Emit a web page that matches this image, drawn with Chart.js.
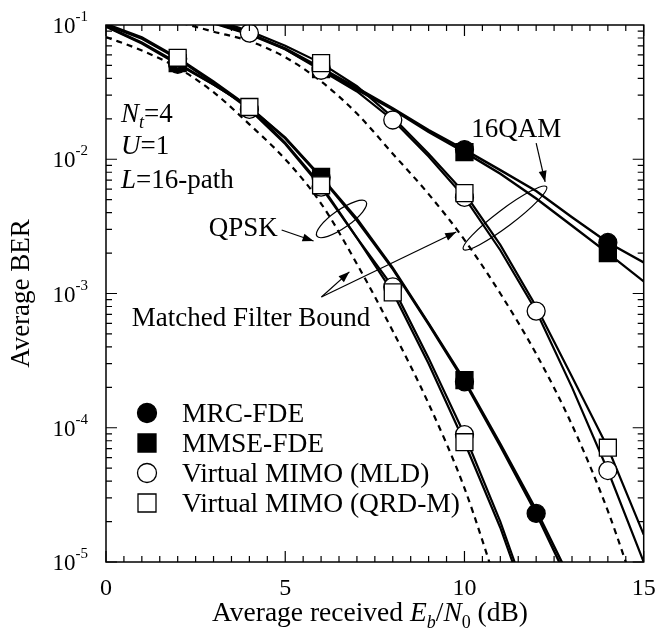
<!DOCTYPE html>
<html>
<head>
<meta charset="utf-8">
<style>
  html, body { margin: 0; padding: 0; background: #fff; }
  #wrap { width: 657px; height: 634px; }
</style>
<script src="https://cdn.jsdelivr.net/npm/chart.js"></script>
</head>
<body>
<div id="wrap"><canvas id="chart" width="657" height="634"></canvas></div>
<script>
// Eb/N0 grid of the curves (dB)
const snr = [0, 1, 2, 3, 4, 5, 6, 7, 8, 9, 10, 11, 12, 13, 14, 15];
// Eb/N0 where simulation markers sit
const snrMarks = [2, 4, 6, 8, 10, 12, 14];

// QPSK curves
const qpskMrc  = [0.097, 0.073, 0.051, 0.036, 0.0245, 0.0143, 0.0073, 0.0035, 0.00152, 5.9e-4, 2.2e-4, 7.3e-5, 2.3e-5, 6.3e-6, null, null];
const qpskMmse = [0.098, 0.074, 0.052, 0.036, 0.0245, 0.0145, 0.0074, 0.0036, 0.00155, 6.0e-4, 2.26e-4, 7.6e-5, 2.45e-5, 7.0e-6, null, null];
const qpskMld  = [0.100, 0.079, 0.056, 0.037, 0.0235, 0.0130, 0.0062, 0.0026, 1.12e-3, 3.3e-4, 8.9e-5, 2.0e-5, 3.5e-6, null, null, null];
const qpskQrd  = [0.102, 0.081, 0.057, 0.038, 0.0245, 0.0133, 0.0064, 0.0026, 1.02e-3, 3.0e-4, 7.8e-5, 1.8e-5, 3.2e-6, null, null, null];
const qpskMfb  = [0.0813, 0.0646, 0.0479, 0.0316, 0.0182, 0.0100, 0.00468, 0.00166, 5.25e-4, 1.51e-4, 3.55e-5, 5.6e-6, null, null, null, null];

// 16QAM curves
const qamMrc  = [0.16, 0.14, 0.122, 0.104, 0.086, 0.067, 0.048, 0.034, 0.024, 0.0165, 0.0118, 0.0083, 0.0058, 0.0037, 0.0024, 0.0017];
const qamMmse = [0.16, 0.14, 0.120, 0.103, 0.085, 0.066, 0.047, 0.033, 0.0235, 0.016, 0.0113, 0.0078, 0.0051, 0.0032, 0.0020, 0.00123];
const qamMld  = [0.17, 0.15, 0.13, 0.108, 0.087, 0.066, 0.046, 0.032, 0.0196, 0.0105, 0.0052, 0.0021, 7.4e-4, 2.0e-4, 4.8e-5, 1.0e-5];
const qamQrd  = [0.17, 0.15, 0.13, 0.110, 0.090, 0.070, 0.052, 0.035, 0.0205, 0.011, 0.0056, 0.0023, 8.0e-4, 2.4e-4, 7.1e-5, 1.6e-5];
const qamMfb  = [0.132, 0.117, 0.105, 0.0891, 0.0759, 0.0575, 0.0380, 0.0219, 0.0110, 0.0055, 0.00251, 1.0e-3, 3.55e-4, 1.05e-4, 2.4e-5, 4.0e-6];

// markers (at snrMarks)
const qpskMrcMarks  = [0.051, null, 0.0073, null, 2.2e-4, 2.3e-5, null];
const qpskMmseMarks = [0.052, null, 0.0074, null, 2.26e-4, null, null];
const qpskMldMarks  = [0.056, 0.0235, 0.0062, 1.12e-3, 8.9e-5, null, null];
const qpskQrdMarks  = [0.057, 0.0245, 0.0064, 1.02e-3, 7.8e-5, null, null];
const qamMrcMarks   = [null, null, 0.048, null, 0.0118, null, 0.0024];
const qamMmseMarks  = [null, null, 0.047, null, 0.0113, null, 0.0020];
const qamMldMarks   = [null, 0.087, 0.046, 0.0196, 0.0052, 7.4e-4, 4.8e-5];
const qamQrdMarks   = [null, null, 0.052, null, 0.0056, null, 7.1e-5];

const legendLabels = ['MRC-FDE', 'MMSE-FDE', 'Virtual MIMO (MLD)', 'Virtual MIMO (QRD-M)'];
const yTickExp = [-1, -2, -3, -4, -5];
const xTickLabels = [0, 5, 10, 15];

const SERIF = '"Liberation Serif", "Times New Roman", serif';

// smooth = theory curve, otherwise straight segments between simulated points
function curve(vals, width, dash, smooth) {
    return {
        data: snr.map((s, i) => ({x: s, y: vals[i]})),
        borderColor: '#000',
        borderWidth: width,
        borderDash: dash || [],
        pointRadius: 0,
        fill: false,
        cubicInterpolationMode: smooth ? 'monotone' : 'default',
        tension: 0,
        clip: 0,
        order: 10
    };
}

function marks(vals, style, filled, order) {
    return {
        data: snrMarks.map((s, i) => ({x: s, y: vals[i]})),
        showLine: false,
        pointStyle: style,
        pointRadius: style === 'rect' ? 12 : 9,
        pointBackgroundColor: filled ? '#000' : '#fff',
        pointBorderColor: '#000',
        pointBorderWidth: 1.3,
        order: order
    };
}

// draw text made of several styled pieces: [text, size, italic, dy]
function rich(ctx, parts, x, y, align) {
    let w = 0;
    parts.forEach(p => {
        ctx.font = (p[2] ? 'italic ' : '') + p[1] + 'px ' + SERIF;
        w += ctx.measureText(p[0]).width;
    });
    let cx = align === 'right' ? x - w : align === 'center' ? x - w / 2 : x;
    ctx.textAlign = 'left';
    ctx.textBaseline = 'alphabetic';
    parts.forEach(p => {
        ctx.font = (p[2] ? 'italic ' : '') + p[1] + 'px ' + SERIF;
        ctx.fillText(p[0], cx, y + (p[3] || 0));
        cx += ctx.measureText(p[0]).width;
    });
}

function arrow(ctx, x1, y1, x2, y2) {
    ctx.beginPath();
    ctx.moveTo(x1, y1);
    ctx.lineTo(x2, y2);
    ctx.lineWidth = 1.2;
    ctx.stroke();
    const a = Math.atan2(y2 - y1, x2 - x1);
    const len = 11, hw = 4;
    ctx.beginPath();
    ctx.moveTo(x2, y2);
    ctx.lineTo(x2 - len * Math.cos(a) + hw * Math.sin(a), y2 - len * Math.sin(a) - hw * Math.cos(a));
    ctx.lineTo(x2 - len * Math.cos(a) - hw * Math.sin(a), y2 - len * Math.sin(a) + hw * Math.cos(a));
    ctx.closePath();
    ctx.fill();
}

const decorations = {
    id: 'decorations',
    afterDraw(chart) {
        const ctx = chart.ctx;
        const a = chart.chartArea;
        const xs = chart.scales.x, ys = chart.scales.y;
        const px = v => xs.getPixelForValue(v);
        const py = v => ys.getPixelForValue(v);
        ctx.save();
        ctx.fillStyle = '#000';
        ctx.strokeStyle = '#000';

        // frame
        ctx.lineWidth = 1.5;
        ctx.strokeRect(a.left, a.top, a.right - a.left, a.bottom - a.top);

        // inward ticks
        ctx.lineWidth = 1.2;
        ctx.beginPath();
        for (let v = 0; v <= 15.001; v += 0.5) {
            const x = px(v);
            const len = (Math.abs(v % 5) < 1e-6) ? 11 : 6;
            ctx.moveTo(x, a.bottom); ctx.lineTo(x, a.bottom - len);
            ctx.moveTo(x, a.top); ctx.lineTo(x, a.top + len);
        }
        for (let e = -5; e <= -2; e++) {
            for (let m = 1; m <= 9; m++) {
                const y = py(m * Math.pow(10, e));
                const len = m === 1 ? 11 : 6;
                ctx.moveTo(a.left, y); ctx.lineTo(a.left + len, y);
                ctx.moveTo(a.right, y); ctx.lineTo(a.right - len, y);
            }
        }
        ctx.stroke();

        // y tick labels
        yTickExp.forEach(e => {
            const y = py(Math.pow(10, e));
            rich(ctx, [['10', 23, false, 0], [String(e), 15, false, -12]], a.left - 18, y + 8, 'right');
        });
        // x tick labels
        ctx.font = '24px ' + SERIF;
        ctx.textAlign = 'center';
        ctx.textBaseline = 'alphabetic';
        xTickLabels.forEach(v => ctx.fillText(String(v), px(v), a.bottom + 33));

        // axis titles
        rich(ctx, [['Average received ', 27.5, false, 0], ['E', 27.5, true, 0], ['b', 18, true, 7],
                   ['/', 27.5, false, 0], ['N', 27.5, true, 0], ['0', 18, false, 7], [' (dB)', 27.5, false, 0]],
             370, a.bottom + 59, 'center');
        ctx.save();
        ctx.translate(22, (a.top + a.bottom) / 2);
        ctx.rotate(-Math.PI / 2);
        ctx.font = '27px ' + SERIF;
        ctx.textAlign = 'center';
        ctx.textBaseline = 'middle';
        ctx.fillText('Average BER', 0, 0);
        ctx.restore();

        // parameter block
        rich(ctx, [['N', 27, true, 0], ['t', 18, true, 6], ['=4', 27, false, 0]], px(0.42), py(0.019), 'left');
        rich(ctx, [['U', 27, true, 0], ['=1', 27, false, 0]], px(0.42), py(0.011), 'left');
        rich(ctx, [['L', 27, true, 0], ['=16-path', 27, false, 0]], px(0.42), py(0.0061), 'left');

        // group labels
        rich(ctx, [['QPSK', 27, false, 0]], px(4.79), py(2.68e-3), 'right');
        rich(ctx, [['16QAM', 27, false, 0]], px(10.19), py(0.01466), 'left');
        rich(ctx, [['Matched Filter Bound', 27, false, 0]], px(0.72), py(5.73e-4), 'left');

        arrow(ctx, px(4.90), py(2.97e-3), px(5.79), py(2.46e-3));
        arrow(ctx, px(12.0), py(0.0132), px(12.25), py(6.78e-3));
        arrow(ctx, px(6.01), py(9.42e-4), px(6.79), py(1.45e-3));
        arrow(ctx, px(6.01), py(9.42e-4), px(9.77), py(2.87e-3));

        ctx.lineWidth = 1.2;
        ctx.beginPath();
        ctx.ellipse(px(6.57), py(3.59e-3), 30, 9, -35 * Math.PI / 180, 0, 2 * Math.PI);
        ctx.stroke();
        ctx.beginPath();
        ctx.ellipse(px(11.13), py(3.65e-3), 52, 8.5, -37 * Math.PI / 180, 0, 2 * Math.PI);
        ctx.stroke();

        // legend
        const ly = [413, 443, 473, 503];
        legendLabels.forEach((t, i) => {
            const cx = 147, cy = ly[i];
            ctx.beginPath();
            if (i % 2 === 0) ctx.arc(cx, cy, 9.5, 0, 2 * Math.PI);
            else ctx.rect(cx - 9, cy - 9, 18, 18);
            ctx.fillStyle = i < 2 ? '#000' : '#fff';
            ctx.fill();
            ctx.fillStyle = '#000';
            ctx.lineWidth = 1.3;
            ctx.stroke();
            rich(ctx, [[t, 27.5, false, 0]], 182, cy + 9, 'left');
        });
        ctx.restore();
    }
};

new Chart(document.getElementById('chart').getContext('2d'), {
    type: 'line',
    data: {
        datasets: [
            curve(qpskMfb, 2.2, [6, 5], true),
            curve(qamMfb, 2.2, [6, 5], true),
            curve(qpskMrc, 2.4),
            curve(qpskMmse, 2.4),
            curve(qpskMld, 2.2),
            curve(qpskQrd, 2.2),
            curve(qamMrc, 2.4),
            curve(qamMmse, 2.4),
            curve(qamMld, 2.2),
            curve(qamQrd, 2.2),
            marks(qpskMrcMarks, 'circle', true, 4),
            marks(qpskMmseMarks, 'rect', true, 3),
            marks(qpskMldMarks, 'circle', false, 2),
            marks(qpskQrdMarks, 'rect', false, 1),
            marks(qamMrcMarks, 'circle', true, 4),
            marks(qamMmseMarks, 'rect', true, 3),
            marks(qamMldMarks, 'circle', false, 2),
            marks(qamQrdMarks, 'rect', false, 1)
        ]
    },
    options: {
        responsive: false,
        animation: false,
        events: [],
        layout: { padding: { left: 106, top: 25, right: 12, bottom: 72 } },
        scales: {
            x: { type: 'linear', min: 0, max: 15, display: false },
            y: { type: 'logarithmic', min: 1e-5, max: 1e-1, display: false }
        },
        plugins: { legend: { display: false }, tooltip: { enabled: false } }
    },
    plugins: [decorations]
});
</script>
</body>
</html>
